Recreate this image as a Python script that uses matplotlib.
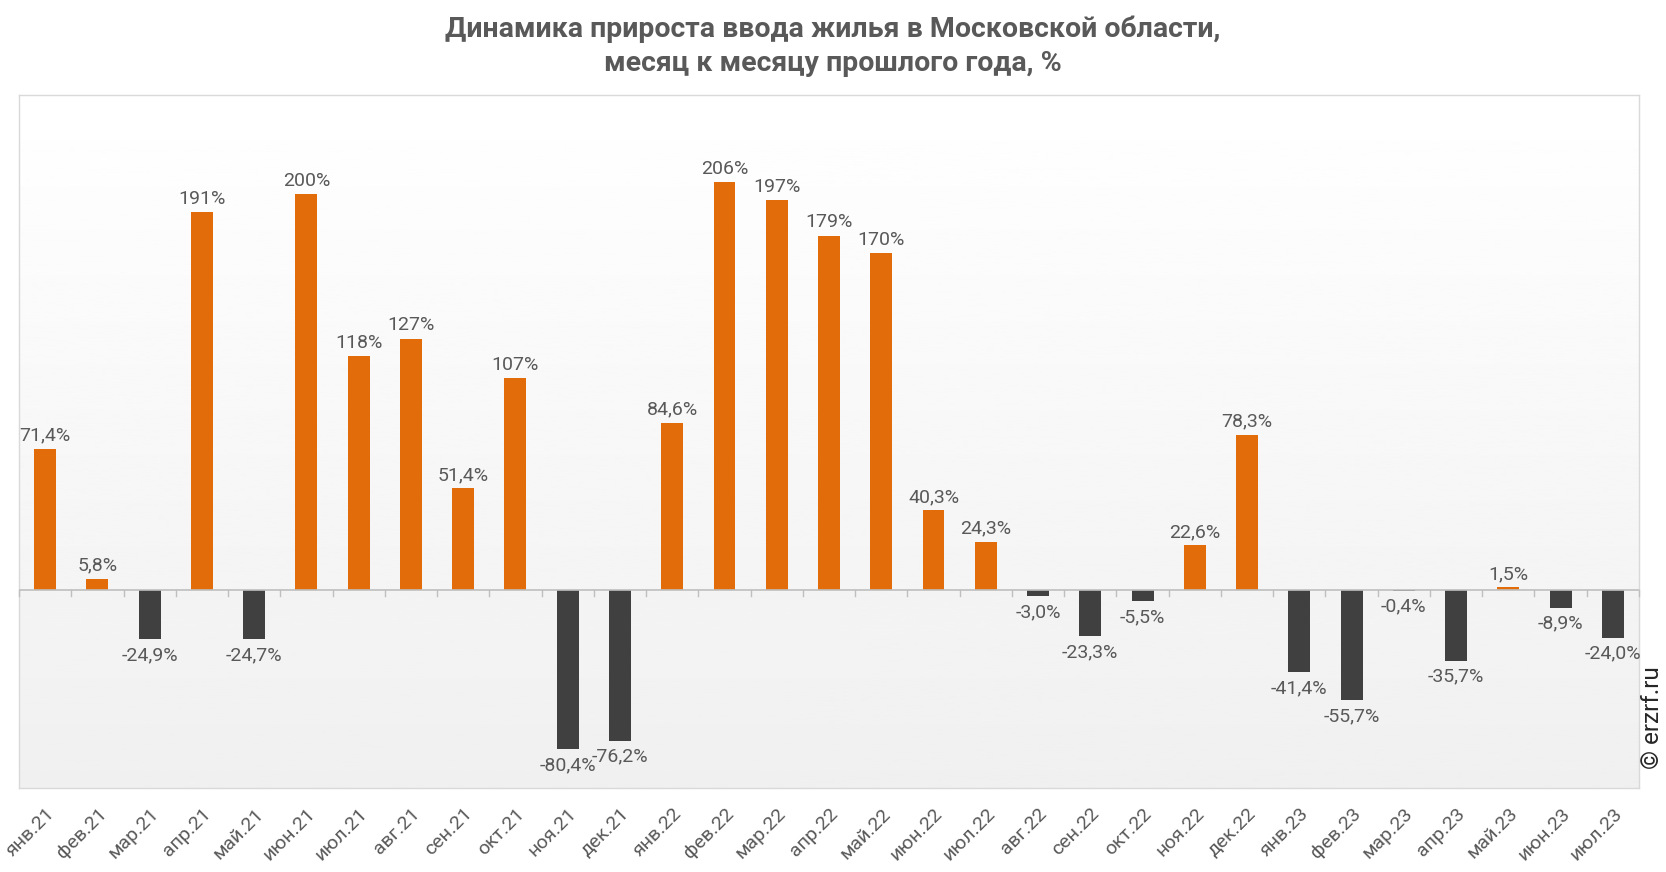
import numpy as np
import matplotlib
matplotlib.use('Agg')
from matplotlib import pyplot as plt

plt.rcParams['font.family'] = ['Roboto', 'DejaVu Sans']

months = ['янв.21', 'фев.21', 'мар.21', 'апр.21', 'май.21', 'июн.21', 'июл.21',
          'авг.21', 'сен.21', 'окт.21', 'ноя.21', 'дек.21',
          'янв.22', 'фев.22', 'мар.22', 'апр.22', 'май.22', 'июн.22', 'июл.22',
          'авг.22', 'сен.22', 'окт.22', 'ноя.22', 'дек.22',
          'янв.23', 'фев.23', 'мар.23', 'апр.23', 'май.23', 'июн.23', 'июл.23']
growth = [71.4, 5.8, -24.9, 191, -24.7, 200, 118, 127, 51.4, 107, -80.4, -76.2,
          84.6, 206, 197, 179, 170, 40.3, 24.3, -3.0, -23.3, -5.5, 22.6, 78.3,
          -41.4, -55.7, -0.4, -35.7, 1.5, -8.9, -24.0]

ORANGE = '#E36C0A'
DARK = '#404040'
TEXT = '#595959'


def fmt(v):
    if abs(v) >= 100:
        return f"{v:.0f}%"
    return f"{v:.1f}%".replace('.', ',')


fig = plt.figure(figsize=(16.66, 8.72), dpi=100)
ax = fig.add_axes([0.0114, 0.0963, 0.9724, 0.7947])

# gradient background
grad = np.linspace(1.0, 0.94, 256).reshape(-1, 1)
ax.imshow(grad, cmap='gray', vmin=0, vmax=1, aspect='auto',
          extent=[0, 1, 0, 1], transform=ax.transAxes, zorder=0)

x = np.arange(len(months))
colors = [ORANGE if v >= 0 else DARK for v in growth]
ax.bar(x, growth, width=0.42, color=colors, zorder=2)

for xi, v in zip(x, growth):
    if v >= 0:
        ax.annotate(fmt(v), (xi, v), textcoords='offset points', xytext=(0, 3),
                    ha='center', va='bottom', fontsize=14, color=TEXT)
    else:
        ax.annotate(fmt(v), (xi, v), textcoords='offset points', xytext=(0, -5),
                    ha='center', va='top', fontsize=14, color=TEXT)

ax.set_xlim(-0.5, len(months) - 0.5)
ax.set_ylim(-100, 250)
ax.axhline(0, color='#BFBFBF', lw=1.2, zorder=3)

# tick marks on zero line between categories
for b in np.arange(-0.5, len(months), 1.0):
    ax.plot([b, b], [0, -3.2], color='#BFBFBF', lw=1, zorder=3, clip_on=False)

ax.set_yticks([])
ax.set_xticks(x)
ax.set_xticklabels(months, rotation=45, ha='right', rotation_mode='anchor',
                   fontsize=14, color=TEXT)
ax.tick_params(axis='x', length=0, pad=12)
for s in ax.spines.values():
    s.set_color('#D9D9D9')
    s.set_linewidth(1)

fig.text(0.5, 0.967, 'Динамика прироста ввода жилья в Московской области,',
         ha='center', va='center', fontsize=20.5, fontweight='bold', color=TEXT)
fig.text(0.5, 0.927, 'месяц к месяцу прошлого года, %',
         ha='center', va='center', fontsize=20.5, fontweight='bold', color=TEXT)
fig.text(0.992, 0.177, '© erzrf.ru', rotation=90, ha='center', va='center',
         fontsize=17.5, color='#262626')

fig.savefig('out.png', dpi=100)
